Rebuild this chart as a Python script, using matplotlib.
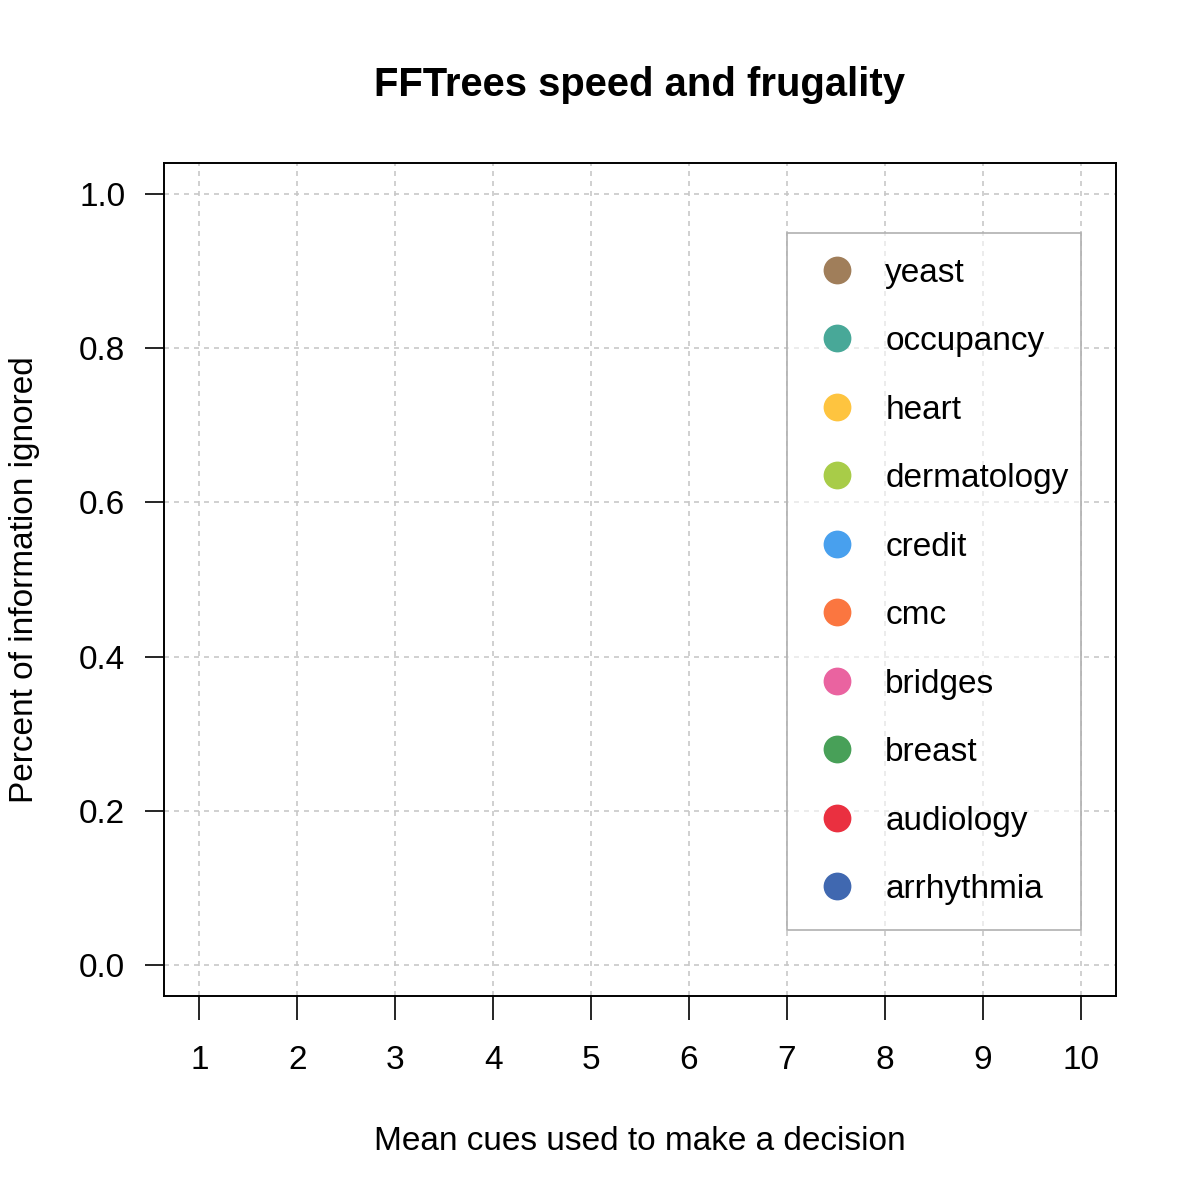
import matplotlib
matplotlib.use("Agg")
import matplotlib.pyplot as plt
from matplotlib.lines import Line2D

plt.rcParams['font.family'] = ['Liberation Sans', 'DejaVu Sans']

# datasets shown in the legend (top to bottom) and their colours
datasets = ["yeast", "occupancy", "heart", "dermatology", "credit",
            "cmc", "bridges", "breast", "audiology", "arrhythmia"]
colors = ["#A07E5A", "#48A898", "#FEC43F", "#A8CC48", "#48A0EE",
          "#FB7640", "#EA63A0", "#48A058", "#EA3040", "#4068B0"]

# no points were drawn on the reference chart
mean_cues = []
pci = []

x_ticks = list(range(1, 11))
y_ticks = [0.0, 0.2, 0.4, 0.6, 0.8, 1.0]

fig = plt.figure(figsize=(6, 6), dpi=200)
ax = fig.add_axes([0.1367, 0.17, 0.7933, 0.694])

ax.set_xlim(0.64, 10.36)
ax.set_ylim(-0.04, 1.04)

# grid
for xv in x_ticks:
    ax.axvline(xv, color="#c8c8c8", lw=0.6, ls=(0, (3, 3)), zorder=0)
for yv in y_ticks:
    ax.axhline(yv, color="#c8c8c8", lw=0.6, ls=(0, (3, 3)), zorder=0)

ax.scatter(mean_cues, pci)

ax.set_xticks(x_ticks)
ax.set_xticklabels([str(v) for v in x_ticks])
ax.set_yticks(y_ticks)
ax.set_yticklabels([f"{v:.1f}" for v in y_ticks])
ax.tick_params(axis="x", length=8.5, width=0.6, pad=9, labelsize=12)
ax.tick_params(axis="y", length=7, width=0.6, pad=7, labelsize=12)
for s in ax.spines.values():
    s.set_linewidth(0.7)

ax.set_xlabel("Mean cues used to make a decision", fontsize=12, labelpad=18)
ax.set_ylabel("Percent of information ignored", fontsize=12, labelpad=14)
fig.text(0.533, 0.929, "FFTrees speed and frugality", ha="center", va="center",
         fontsize=14.4, fontweight="bold")

handles = [Line2D([], [], ls="", marker="o", ms=9, mfc=c, mec=c, label=n)
           for n, c in zip(datasets, colors)]
leg = ax.legend(handles=handles, loc="upper left",
                bbox_to_anchor=(7, 0.05, 3, 0.9), bbox_transform=ax.transData,
                mode="expand", borderaxespad=0, fontsize=12, labelspacing=1.125,
                handletextpad=0.7, borderpad=0.75, handlelength=1.5,
                fancybox=False)
frame = leg.get_frame()
frame.set_alpha(None)
frame.set_facecolor((1, 1, 1, 0.6))
frame.set_edgecolor("#b0b0b0")
frame.set_linewidth(0.6)

fig.savefig("out.png", dpi=200)
